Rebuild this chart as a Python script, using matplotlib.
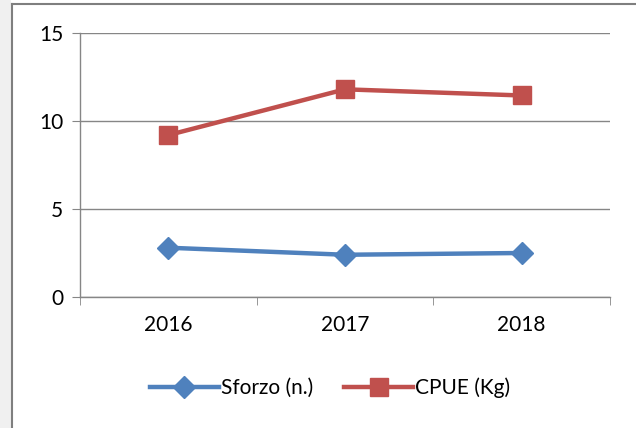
import matplotlib
matplotlib.use("Agg")
import matplotlib.pyplot as plt
from matplotlib.patches import Rectangle

years = ["2016", "2017", "2018"]
sforzo = [2.8, 2.4, 2.5]
cpue = [9.2, 11.8, 11.45]
yticks = [0, 5, 10, 15]

plt.rcParams["font.family"] = ["Lato", "DejaVu Sans"]

fig = plt.figure(figsize=(6.36, 4.28), dpi=100)
# window chrome: light strip on the left and thin frame
fig.patches.append(Rectangle((0, 0), 11 / 636, 1, transform=fig.transFigure,
                             facecolor="#f0f0f0", edgecolor="none", zorder=0))
fig.add_artist(plt.Line2D([11.5 / 636, 11.5 / 636], [0, 1 - 4 / 428], color="#7f7f7f", lw=1.5))
fig.add_artist(plt.Line2D([11.5 / 636, 1], [1 - 4 / 428, 1 - 4 / 428], color="#7f7f7f", lw=1.5))

ax = fig.add_axes([80 / 636, 1 - 297 / 428, 530 / 636, 264 / 428])
x = range(len(years))
ax.plot(x, sforzo, color="#4F81BD", lw=3.2, marker="D", markersize=11, label="Sforzo (n.)")
ax.plot(x, cpue, color="#C0504D", lw=3.2, marker="s", markersize=12.5, label="CPUE (Kg)")

ax.set_xlim(-0.5, 2.5)
ax.set_ylim(0, 15)
ax.set_yticks(yticks)
ax.set_xticks(x)
ax.set_xticklabels(years)
ax.set_xticks([-0.5, 0.5, 1.5, 2.5], minor=True)
ax.tick_params(axis="x", which="major", length=0, labelsize=15, pad=13)
ax.tick_params(axis="x", which="minor", length=6, color="#868686", direction="out")
ax.tick_params(axis="y", length=6, color="#868686", labelsize=15, pad=6)
ax.grid(axis="y", color="#868686", lw=1)
ax.set_axisbelow(True)
for s in ["top", "right"]:
    ax.spines[s].set_visible(False)
for s in ["left", "bottom"]:
    ax.spines[s].set_color("#868686")
    ax.spines[s].set_linewidth(1)

fig.legend(loc="center", bbox_to_anchor=(330 / 636, 1 - 388 / 428), ncol=2, frameon=False,
           fontsize=15, handlelength=3.3, handletextpad=0.1, columnspacing=1.5)

fig.savefig("out.png", dpi=100)
